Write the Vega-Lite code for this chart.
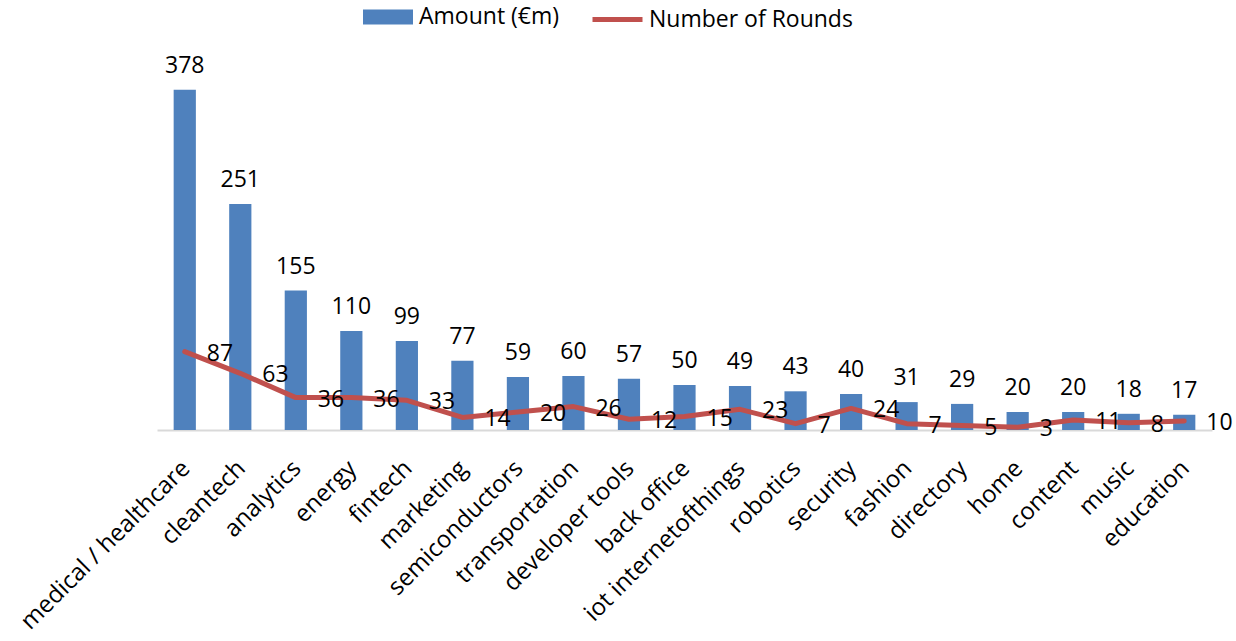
{
  "$schema": "https://vega.github.io/schema/vega-lite/v6.json",
  "width": 1055,
  "height": 360,
  "autosize": {"type": "none"},
  "padding": {"left": 157, "top": 70, "right": 24, "bottom": 211},
  "background": "white",
  "config": {
    "view": {"stroke": null},
    "font": "Open Sans",
    "legend": {"padding": 0}
  },
  "data": {
    "values": [
      {"category": "medical / healthcare", "amount": 378, "rounds": 87},
      {"category": "cleantech", "amount": 251, "rounds": 63},
      {"category": "analytics", "amount": 155, "rounds": 36},
      {"category": "energy", "amount": 110, "rounds": 36},
      {"category": "fintech", "amount": 99, "rounds": 33},
      {"category": "marketing", "amount": 77, "rounds": 14},
      {"category": "semiconductors", "amount": 59, "rounds": 20},
      {"category": "transportation", "amount": 60, "rounds": 26},
      {"category": "developer tools", "amount": 57, "rounds": 12},
      {"category": "back office", "amount": 50, "rounds": 15},
      {"category": "iot internetofthings", "amount": 49, "rounds": 23},
      {"category": "robotics", "amount": 43, "rounds": 7},
      {"category": "security", "amount": 40, "rounds": 24},
      {"category": "fashion", "amount": 31, "rounds": 7},
      {"category": "directory", "amount": 29, "rounds": 5},
      {"category": "home", "amount": 20, "rounds": 3},
      {"category": "content", "amount": 20, "rounds": 11},
      {"category": "music", "amount": 18, "rounds": 8},
      {"category": "education", "amount": 17, "rounds": 10}
    ]
  },
  "encoding": {
    "x": {
      "field": "category",
      "type": "nominal",
      "sort": null,
      "scale": {"paddingInner": 0.6, "paddingOuter": 0.3},
      "axis": {
        "title": null,
        "labelAngle": -45,
        "labelFontSize": 24,
        "labelColor": "#000000",
        "labelPadding": 26,
        "labelOffset": -7,
        "labelLimit": 0,
        "labelOverlap": false,
        "ticks": false,
        "domainColor": "#d9d9d9",
        "domainWidth": 2,
        "grid": false
      }
    }
  },
  "layer": [
    {
      "mark": {"type": "bar"},
      "encoding": {
        "y": {"field": "amount", "type": "quantitative", "scale": {"domain": [0, 400]}, "axis": null},
        "fill": {
          "datum": "Amount (€m)",
          "scale": {"domain": ["Amount (€m)"], "range": ["#4F81BD"]},
          "legend": {
            "title": null,
            "orient": "none",
            "legendX": 206,
            "legendY": -78,
            "symbolType": "M-1,-0.3H1V0.3H-1Z",
            "symbolSize": 2500,
            "symbolStrokeWidth": 0,
            "labelFontSize": 23,
            "labelColor": "#000000",
            "labelOffset": 6,
            "labelLimit": 0
          }
        }
      }
    },
    {
      "mark": {"type": "text", "fontSize": 23, "dy": -24, "color": "#000000"},
      "encoding": {
        "y": {"field": "amount", "type": "quantitative"},
        "text": {"field": "amount", "type": "quantitative"}
      }
    },
    {
      "mark": {"type": "line", "strokeWidth": 5, "strokeJoin": "round", "strokeCap": "round"},
      "encoding": {
        "y": {"field": "rounds", "type": "quantitative"},
        "stroke": {
          "datum": "Number of Rounds",
          "scale": {"domain": ["Number of Rounds"], "range": ["#C0504D"]},
          "legend": {
            "title": null,
            "orient": "none",
            "legendX": 433,
            "legendY": -78,
            "symbolType": "stroke",
            "symbolSize": 2500,
            "symbolStrokeWidth": 5,
            "labelFontSize": 23,
            "labelColor": "#000000",
            "labelOffset": 4,
            "labelLimit": 0
          }
        }
      }
    },
    {
      "mark": {"type": "text", "fontSize": 23, "align": "left", "dx": 22, "dy": 2, "color": "#000000"},
      "encoding": {
        "y": {"field": "rounds", "type": "quantitative"},
        "text": {"field": "rounds", "type": "quantitative"}
      }
    }
  ],
  "resolve": {"legend": {"fill": "independent", "stroke": "independent"}}
}
